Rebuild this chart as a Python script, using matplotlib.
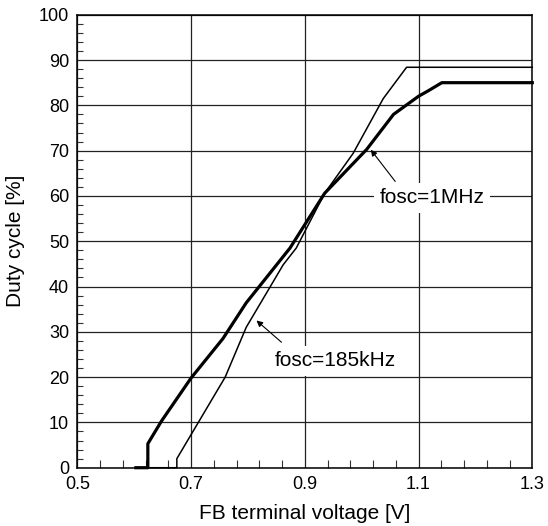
import matplotlib
matplotlib.use("Agg")
import numpy as np
import matplotlib.pyplot as plt
from matplotlib.ticker import MultipleLocator

plt.rcParams['font.family'] = ['Liberation Sans', 'DejaVu Sans']

# fosc = 1MHz (thick curve)
v_1m = [0.603, 0.624, 0.624, 0.648, 0.700, 0.756, 0.797, 0.874, 0.935,
        1.009, 1.056, 1.100, 1.117, 1.141, 1.300]
d_1m = [0.0, 0.0, 5.3, 10.3, 19.8, 28.5, 36.4, 48.5, 60.6,
        70.3, 78.0, 82.0, 83.2, 85.0, 85.0]

# fosc = 185kHz (thin curve)
v_185k = [0.603, 0.675, 0.675, 0.760, 0.797, 0.862, 0.885, 0.935,
          0.985, 1.038, 1.079, 1.300]
d_185k = [0.0, 0.0, 2.0, 20.0, 31.0, 44.8, 48.5, 60.6,
          69.4, 81.5, 88.4, 88.4]

x_ticks = [0.5, 0.7, 0.9, 1.1, 1.3]

fig = plt.figure(figsize=(5.48, 5.26), dpi=100)
ax = fig.add_axes([0.1411, 0.1108, 0.8302, 0.8612])

ax.plot(v_1m, d_1m, color='black', lw=2.3, zorder=3, clip_on=False)
ax.plot(v_185k, d_185k, color='black', lw=1.1, zorder=3, clip_on=False)

ax.set_xlim(0.5, 1.3)
ax.set_ylim(0, 100)
ax.set_xticks(x_ticks)
ax.set_xticklabels([f'{t:.1f}' for t in x_ticks])
ax.set_xticks(np.arange(0.5, 1.301, 0.04), minor=True)
ax.yaxis.set_major_locator(MultipleLocator(10))
ax.yaxis.set_minor_locator(MultipleLocator(2))
ax.grid(True, which='major', color='#222222', lw=0.9, zorder=1)
ax.set_axisbelow(True)
ax.tick_params(which='both', direction='in', labelsize=13, color='#333333')
ax.tick_params(axis='x', which='minor', length=6, width=0.8)
ax.tick_params(axis='y', which='minor', length=4.5, width=0.8)
ax.tick_params(which='major', length=0, pad=6)
for s in ax.spines.values():
    s.set_linewidth(1.1)

ax.set_xlabel('FB terminal voltage [V]', fontsize=15, labelpad=8)
ax.set_ylabel('Duty cycle [%]', fontsize=15, labelpad=10)

arrow = dict(arrowstyle='-|>', lw=0.8, color='black', mutation_scale=9,
             shrinkA=0, shrinkB=0)
ax.annotate('', xy=(1.016, 70.2), xytext=(1.059, 63.2), arrowprops=arrow, zorder=4)
ax.annotate('', xy=(0.815, 32.5), xytext=(0.859, 27.7), arrowprops=arrow, zorder=4)

box = dict(facecolor='white', edgecolor='none', pad=4)
ax.text(1.1238, 59.6, 'fosc=1MHz', fontsize=15, ha='center', va='center',
        bbox=box, zorder=5)
ax.text(0.9534, 23.6, 'fosc=185kHz', fontsize=15, ha='center', va='center',
        bbox=box, zorder=5)

fig.savefig('out.png', dpi=100)
